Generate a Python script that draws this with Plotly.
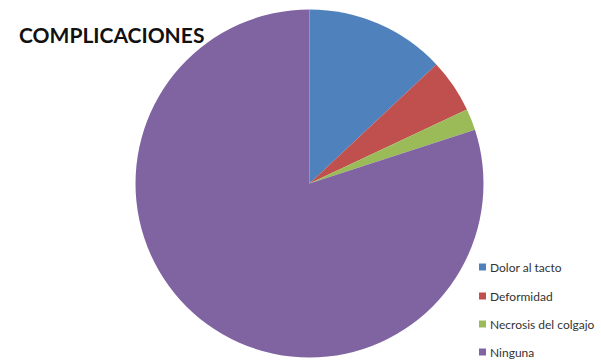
import plotly.graph_objects as go

labels = ["Dolor al tacto", "Deformidad", "Necrosis del colgajo", "Ninguna"]
values = [13, 5, 2, 80]
colors = ["#4F81BD", "#C0504D", "#9BBB59", "#8064A2"]
title_text = "COMPLICACIONES"

W, H = 601, 360
cx, cy, r = 309.5, 183.5, 174

fig = go.Figure(go.Pie(
    labels=labels, values=values, sort=False, direction="clockwise", rotation=0,
    marker=dict(colors=colors, line=dict(width=0)),
    textinfo="none", hoverinfo="label+percent", showlegend=False,
    domain=dict(x=[(cx - r) / W, (cx + r) / W], y=[1 - (cy + r) / H, 1 - (cy - r) / H]),
))

shapes = []
annotations = []
leg_y = [267, 296, 324, 352]
for lab, col, yy in zip(labels, colors, leg_y):
    shapes.append(dict(type="rect", xref="paper", yref="paper",
                       x0=479 / W, x1=486 / W, y0=1 - (yy + 3.5) / H, y1=1 - (yy - 3.5) / H,
                       fillcolor=col, line=dict(width=0)))
    annotations.append(dict(text=lab, xref="paper", yref="paper", x=488 / W, y=1 - yy / H,
                            xanchor="left", yanchor="middle", showarrow=False,
                            font=dict(family="Lato", size=12, color="#333333")))

annotations.append(dict(text="<b>" + title_text + "</b>", xref="paper", yref="paper",
                        x=17 / W, y=1 - 34 / H, xanchor="left", yanchor="middle", showarrow=False,
                        font=dict(family="Lato", size=21, color="#111111")))

fig.update_layout(width=W, height=H, margin=dict(l=0, r=0, t=0, b=0),
                  paper_bgcolor="white", plot_bgcolor="white",
                  shapes=shapes, annotations=annotations)
fig.write_html("out.html")
